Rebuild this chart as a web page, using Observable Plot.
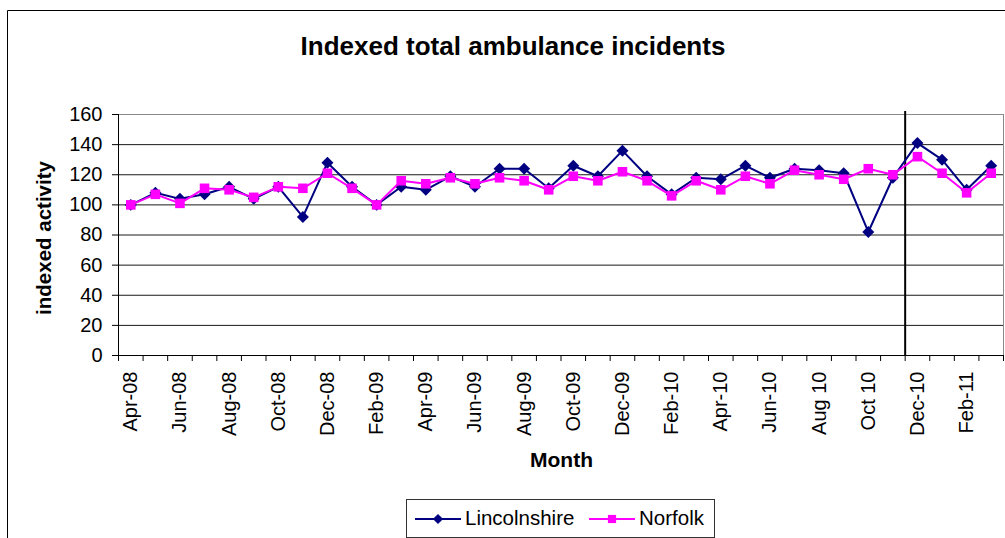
<!DOCTYPE html>
<html>
<head>
<meta charset="utf-8">
<script src="https://cdn.jsdelivr.net/npm/d3@7"></script>
<script src="https://cdn.jsdelivr.net/npm/@observablehq/plot@0.6"></script>
<style>
  html, body { margin: 0; padding: 0; background: #fff; overflow: hidden; }
  #chart { width: 1005px; height: 538px; overflow: hidden; }
</style>
</head>
<body>
<div id="chart"></div>
<script>
// Months, April 2008 to March 2011
const months = [
  "Apr-08", "May-08", "Jun-08", "Jul-08", "Aug-08", "Sep-08", "Oct-08", "Nov-08", "Dec-08", "Jan-09", "Feb-09", "Mar-09",
  "Apr-09", "May-09", "Jun-09", "Jul-09", "Aug-09", "Sep-09", "Oct-09", "Nov-09", "Dec-09", "Jan-10", "Feb-10", "Mar-10",
  "Apr-10", "May-10", "Jun-10", "Jul-10", "Aug 10", "Sep-10", "Oct 10", "Nov-10", "Dec-10", "Jan-11", "Feb-11", "Mar-11"
];

// Indexed activity (April 2008 = 100)
const lincolnshire = [
  100, 108, 104, 107, 112, 104, 112, 92, 128, 112, 100, 112,
  110, 119, 112, 124, 124, 111, 126, 119, 136, 119, 107, 118,
  117, 126, 118, 124, 123, 121, 82, 118, 141, 130, 110, 126
];
const norfolk = [
  100, 107, 101, 111, 110, 105, 112, 111, 121, 111, 100, 116,
  114, 118, 114, 118, 116, 110, 119, 116, 122, 116, 106, 116,
  110, 119, 114, 123, 120, 117, 124, 120, 132, 121, 108, 121
];

const yTicks = [0, 20, 40, 60, 80, 100, 120, 140, 160];
const splitMonth = "Dec-10";

const seriesNames = ["Lincolnshire", "Norfolk"];
const seriesColors = ["#000080", "#ff00ff"];
const seriesSymbols = ["diamond2", "square"];

const lincRows = lincolnshire.map((v, i) => ({i, v}));
const norfRows = norfolk.map((v, i) => ({i, v}));
const labelIdx = months.map((m, i) => i).filter(i => i % 2 === 0);
const boundaries = d3.range(months.length + 1).map(k => k - 0.5);
const splitAt = months.indexOf(splitMonth) - 0.5;

const font = "Arial, 'Liberation Sans', sans-serif";

const chart = Plot.plot({
  width: 1005,
  height: 538,
  marginLeft: 118,
  marginRight: 2,
  marginTop: 114,
  marginBottom: 183,
  style: {fontFamily: font, fontSize: "20px", color: "#000", background: "#fff", overflow: "hidden"},
  x: {domain: [-0.5, months.length - 0.5]},
  y: {domain: [0, 160]},
  marks: [
    Plot.ruleY(yTicks.filter(t => t > 0 && t < 160), {stroke: "#1a1a1a", strokeWidth: 1}),
    Plot.frame({stroke: "#8a8a8a"}),
    Plot.axisY({ticks: yTicks, tickSize: 6, tickPadding: 10, fontSize: 20, label: null}),
    Plot.axisX({ticks: boundaries, tickSize: 6, tickFormat: () => "", label: null}),
    Plot.axisX({ticks: labelIdx, tickSize: 0, tickPadding: 16, tickRotate: -90, fontSize: 20,
                tickFormat: i => months[i], label: null}),
    Plot.ruleX([-0.5], {stroke: "#000"}),
    Plot.ruleY([0], {stroke: "#000"}),
    Plot.ruleX([splitAt], {y1: 0, y2: 162, stroke: "#000", strokeWidth: 2}),
    Plot.line(lincRows, {x: "i", y: "v", stroke: seriesColors[0], strokeWidth: 2}),
    Plot.dot(lincRows, {x: "i", y: "v", symbol: seriesSymbols[0], r: 5.4, fill: seriesColors[0], stroke: "none"}),
    Plot.line(norfRows, {x: "i", y: "v", stroke: seriesColors[1], strokeWidth: 2}),
    Plot.dot(norfRows, {x: "i", y: "v", symbol: seriesSymbols[1], r: 5.4, fill: seriesColors[1], stroke: "none"})
  ]
});

document.getElementById("chart").appendChild(chart);

// Chart furniture: outer border, title, axis titles and legend
const svg = d3.select(chart);
const g = svg.append("g").attr("font-family", font).attr("fill", "#000");

g.append("path").attr("d", "M7.5,540V10.5H1010").attr("fill", "none").attr("stroke", "#000");

g.append("text").attr("x", 513).attr("y", 55).attr("text-anchor", "middle")
  .attr("font-size", 26).attr("font-weight", "bold").text("Indexed total ambulance incidents");

g.append("text").attr("transform", "translate(51,238) rotate(-90)").attr("text-anchor", "middle")
  .attr("font-size", 20.5).attr("font-weight", "bold").text("indexed activity");

g.append("text").attr("x", 561.5).attr("y", 467).attr("text-anchor", "middle")
  .attr("font-size", 21).attr("font-weight", "bold").text("Month");

const legend = g.append("g");
legend.append("rect").attr("x", 406.5).attr("y", 499.5).attr("width", 308).attr("height", 38)
  .attr("fill", "#fff").attr("stroke", "#333");
const legendX = [415, 589];
const symbolPaths = [d3.symbolDiamond2, d3.symbolSquare];
seriesNames.forEach((name, k) => {
  const x0 = legendX[k];
  legend.append("line").attr("x1", x0).attr("x2", x0 + 46).attr("y1", 519).attr("y2", 519)
    .attr("stroke", seriesColors[k]).attr("stroke-width", 2);
  legend.append("path").attr("transform", `translate(${x0 + 23},519)`)
    .attr("d", d3.symbol(symbolPaths[k], 4.6 * 4.6 * Math.PI)())
    .attr("fill", seriesColors[k]);
  legend.append("text").attr("x", x0 + 50).attr("y", 525).attr("text-anchor", "start")
    .attr("font-size", 20.5).text(name);
});
</script>
</body>
</html>
